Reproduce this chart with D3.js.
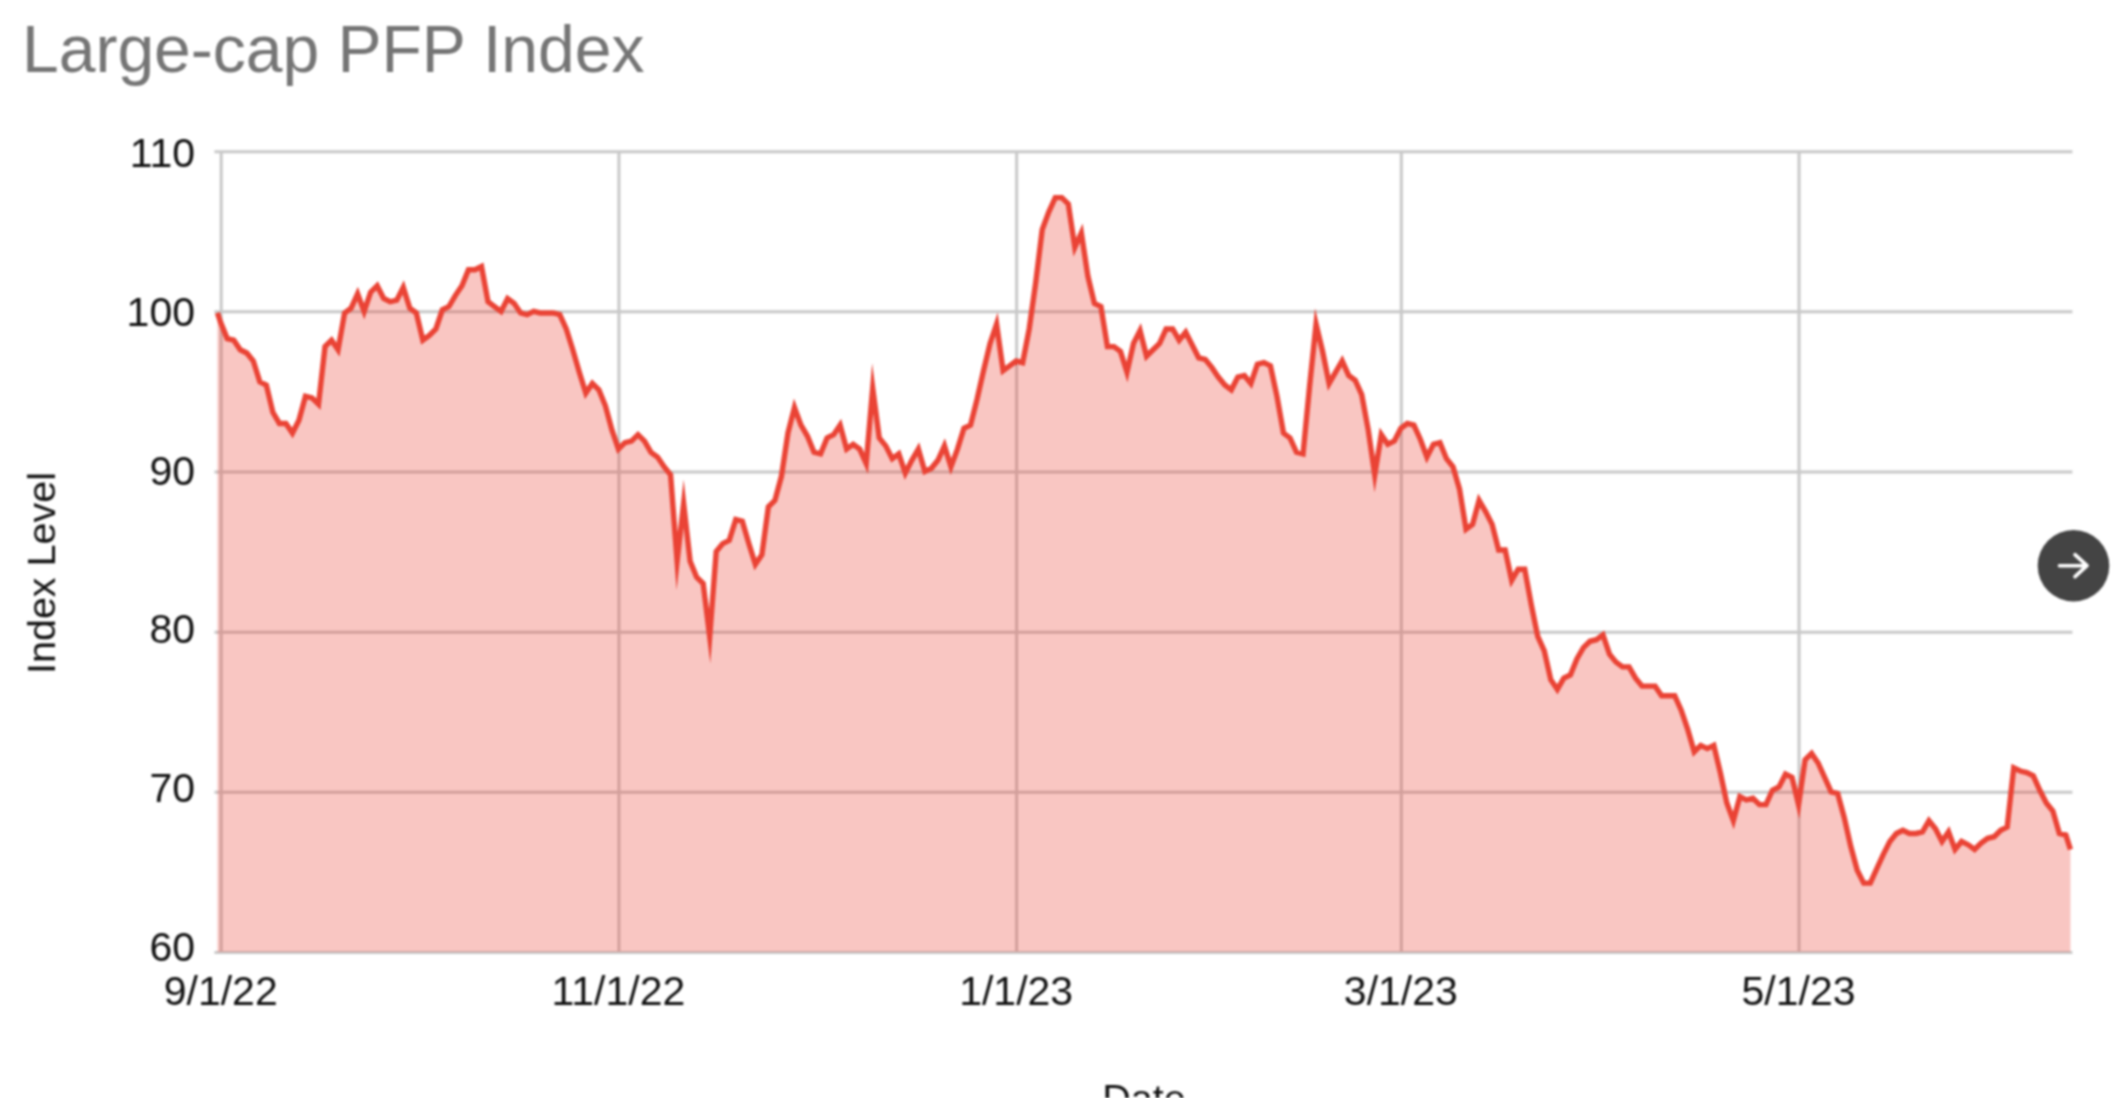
<!DOCTYPE html>
<html>
<head>
<meta charset="utf-8">
<script src="https://cdn.jsdelivr.net/npm/d3@7"></script>
<style>
html,body{margin:0;padding:0;background:#fff;overflow:hidden}
svg{display:block;filter:blur(1px)}
text{font-family:"Liberation Sans",Arial,sans-serif}
</style>
</head>
<body>
<svg id="chart" width="2126" height="1098"></svg>
<script>
const title = "Large-cap PFP Index";
const yTitle = "Index Level";
const xTitle = "Date";
const yTicks = [60, 70, 80, 90, 100, 110];
const xTickDates = ["2022-09-01", "2022-11-01", "2023-01-01", "2023-03-01", "2023-05-01"];
const xTickLabels = ["9/1/22", "11/1/22", "1/1/23", "3/1/23", "5/1/23"];
const startDate = "2022-09-01";
const endDate = "2023-06-12";
// Days since 9/1/22 of the two partial end readings; the rest are daily from day 0
const firstOffset = -0.5;
const lastOffset = 283.7;
const values = [
  99.9,
  99.3,98.3,98.2,97.6,97.4,96.9,95.6,95.4,93.7,93.0,
  93.0,92.4,93.2,94.7,94.6,94.2,97.8,98.2,97.6,99.9,
  100.2,101.1,100.0,101.2,101.6,100.8,100.6,100.7,101.5,100.2,
  99.9,98.2,98.5,98.9,100.1,100.3,101.0,101.6,102.6,102.6,
  102.8,100.6,100.3,100.0,100.8,100.5,99.9,99.8,100.0,99.9,
  99.9,99.9,99.8,98.9,97.6,96.2,94.9,95.5,95.1,94.1,
  92.6,91.4,91.8,91.9,92.3,91.9,91.2,90.9,90.3,89.8,
  84.4,88.0,84.4,83.4,83.0,79.7,85.0,85.5,85.7,87.0,
  86.9,85.5,84.2,84.8,87.8,88.2,89.7,92.4,94.0,92.9,
  92.2,91.2,91.1,92.1,92.3,92.9,91.4,91.7,91.4,90.5,
  95.2,92.1,91.6,90.8,91.1,89.9,90.7,91.4,90.0,90.2,
  90.7,91.6,90.3,91.4,92.7,92.9,94.5,96.3,98.0,99.2,
  96.3,96.6,96.9,96.8,98.9,101.8,105.1,106.2,107.1,107.1,
  106.7,104.0,104.9,102.2,100.5,100.3,97.8,97.8,97.5,96.2,
  98.0,98.8,97.2,97.6,98.0,98.9,98.9,98.2,98.7,97.9,
  97.1,97.0,96.5,95.9,95.4,95.1,95.9,96.0,95.5,96.7,
  96.8,96.6,94.7,92.4,92.1,91.2,91.1,95.3,99.2,97.5,
  95.5,96.2,96.9,96.0,95.7,94.8,92.6,89.8,92.3,91.7,
  91.9,92.7,93.0,92.9,92.0,90.9,91.7,91.8,90.8,90.3,
  88.9,86.4,86.7,88.2,87.5,86.7,85.1,85.1,83.2,83.9,
  83.9,81.7,79.7,78.8,77.0,76.4,77.1,77.3,78.3,79.0,
  79.4,79.5,79.8,78.6,78.1,77.8,77.8,77.1,76.6,76.6,
  76.6,76.0,76.0,76.0,75.1,73.9,72.5,72.9,72.7,72.9,
  71.2,69.3,68.2,69.7,69.5,69.6,69.2,69.2,70.1,70.3,
  71.1,70.9,69.2,72.0,72.4,71.8,70.9,70.0,69.9,68.4,
  66.6,65.1,64.3,64.3,65.2,66.1,66.9,67.4,67.6,67.4,
  67.4,67.5,68.2,67.7,66.9,67.5,66.4,66.9,66.7,66.4,
  66.8,67.1,67.2,67.6,67.8,71.5,71.3,71.2,71.0,70.1,
  69.3,68.8,67.4,67.3,66.4
];

const svg = d3.select("#chart");
const parse = d3.utcParse("%Y-%m-%d");
const dayMs = 864e5;
const t0 = parse(startDate).getTime();
const offsetOf = i => i === 0 ? firstOffset : (i === values.length - 1 ? lastOffset : i - 1);
const rows = values.map((v, i) => ({date: new Date(t0 + offsetOf(i) * dayMs), value: v}));

const x = d3.scaleUtc().domain([parse(startDate), parse(endDate)]).range([220.7, 2072.4]);
const y = d3.scaleLinear().domain([60, 110]).range([952, 151.2]);
// The reference packs its value labels slightly tighter than its gridlines
const yLabel = d3.scaleLinear().domain([60, 110]).range([961.2, 166.7]);

// Gridlines (drawn first, the translucent area sits on top)
const gx = svg.append("g").attr("transform", "translate(0,952)")
  .call(d3.axisBottom(x).tickValues(xTickDates.map(parse)).tickSize(-800.8).tickFormat(""));
gx.select(".domain").remove();
gx.selectAll("line").attr("stroke", "#c8c8c8").attr("stroke-width", 3);

const gy = svg.append("g").attr("transform", "translate(2072.4,0)")
  .call(d3.axisLeft(y).tickValues(yTicks).tickSize(1858).tickFormat(""));
gy.select(".domain").remove();
gy.selectAll("line").attr("stroke", "#c8c8c8").attr("stroke-width", 3);

// Area + line
const area = d3.area().x(d => x(d.date)).y0(y(60)).y1(d => y(d.value));
const line = d3.line().x(d => x(d.date)).y(d => y(d.value));
svg.append("path").datum(rows).attr("d", area).attr("fill", "#ea4335").attr("fill-opacity", 0.3);
svg.append("path").datum(rows).attr("d", line).attr("fill", "none")
  .attr("stroke", "#ea4335").attr("stroke-width", 5.4).attr("stroke-linejoin", "miter").attr("stroke-miterlimit", 12);

// Tick labels
svg.append("g").selectAll("text").data(yTicks).join("text")
  .attr("x", 195).attr("y", d => yLabel(d)).attr("text-anchor", "end")
  .attr("font-size", 41).attr("fill", "#111").text(d => d);
svg.append("g").selectAll("text").data(xTickDates).join("text")
  .attr("x", d => x(parse(d))).attr("y", 1005).attr("text-anchor", "middle")
  .attr("font-size", 41).attr("fill", "#111").text((d, i) => xTickLabels[i]);

// Titles
svg.append("text").attr("x", 22).attr("y", 72).attr("font-size", 66).attr("fill", "#757575").text(title);
svg.append("text").attr("transform", "translate(55,573) rotate(-90)").attr("text-anchor", "middle")
  .attr("font-size", 39.5).attr("fill", "#111").text(yTitle);
svg.append("text").attr("x", 1144).attr("y", 1112).attr("text-anchor", "middle")
  .attr("font-size", 39.5).attr("fill", "#111").text(xTitle);

// Carousel "next" button that overlays the chart
const btn = svg.append("g").attr("transform", "translate(2073.5,565.7)");
btn.append("circle").attr("r", 35.8).attr("fill", "#444");
btn.append("path").attr("d", "M-14,0H13.5M1.5,-11L13.5,0L1.5,11").attr("fill", "none")
  .attr("stroke", "#fff").attr("stroke-width", 3.6).attr("stroke-linecap", "round").attr("stroke-linejoin", "round");
</script>
</body>
</html>
